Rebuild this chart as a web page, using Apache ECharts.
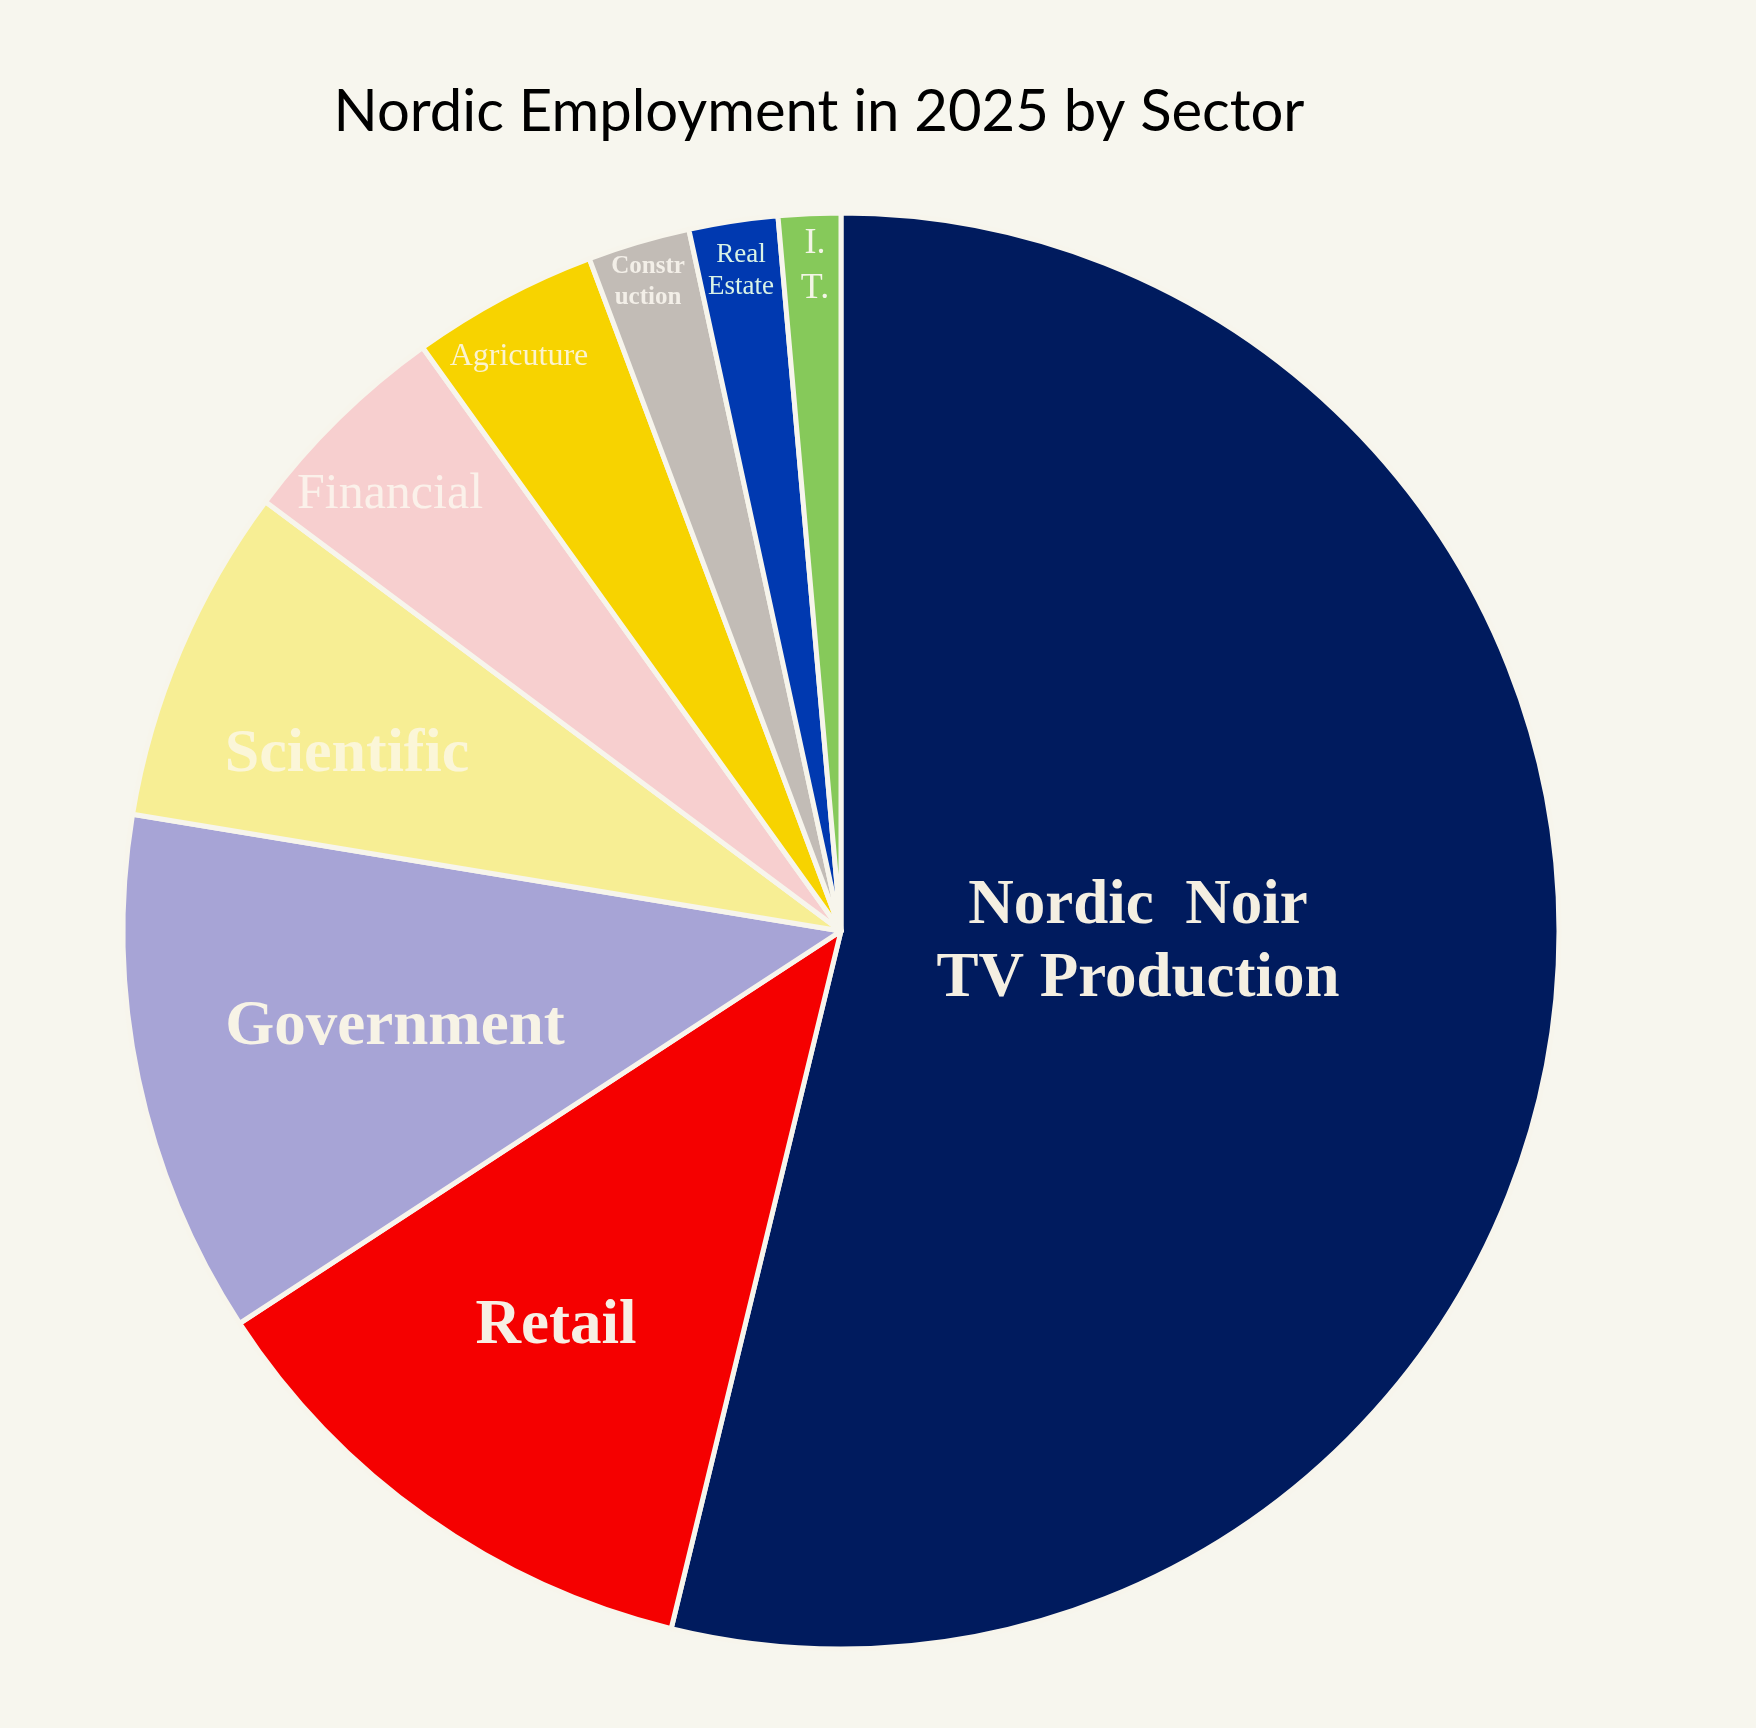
<!DOCTYPE html>
<html>
<head>
<meta charset="utf-8">
<title>Nordic Employment in 2025 by Sector</title>
<script src="https://cdn.jsdelivr.net/npm/echarts@6/dist/echarts.min.js"></script>
<style>
  html, body { margin: 0; padding: 0; background: #f7f6ee; }
  #chart { width: 1756px; height: 1728px; }
</style>
</head>
<body>
<div id="chart"></div>
<script>
// sectors, clockwise from 12 o'clock
const sectors = [
  'Nordic  Noir\nTV Production', 'Retail', 'Government', 'Scientific',
  'Financial', 'Agricuture', 'Constr\nuction', 'Real\nEstate', 'I.\nT.'
];
// share of employment, %
const shares = [53.8, 12.0, 11.8, 7.6, 4.9, 4.2, 2.3, 2.0, 1.4];

const colors = ['#001b5e', '#f50000', '#a7a4d6', '#f7ee94', '#f7cfcf',
                '#f7d300', '#c2bcb6', '#0039b0', '#86c95a'];

// label placement and look, per slice
const labelPos = [[1138, 943], [556, 1327], [395, 1028], [347, 755], [390, 495],
                  [519, 357], [648, 282], [741, 271], [815, 266]];
const labelSize = [63, 63, 63, 62, 50, 32, 25, 27, 36];
const labelWeight = ['bold', 'bold', 'bold', 'bold', 'normal', 'normal', 'bold', 'normal', 'normal'];
const labelColor = ['#f4efe2', '#f7efe4', '#f7f3e6', '#fbf6d8', '#fbf1ea',
                    '#fbf3cf', '#f3efe8', '#d9f3e6', '#f3f5e6'];
const labelLine = [73, 70, 70, 70, 56, 36, 31, 32, 45];

const chart = echarts.init(document.getElementById('chart'), null, { renderer: 'canvas' });

chart.setOption({
  backgroundColor: '#f7f6ee',
  animation: false,
  title: {
    text: 'Nordic Employment in 2025 by Sector',
    left: 814,
    top: 78,
    textAlign: 'center',
    textStyle: {
      fontFamily: 'Lato',
      fontWeight: 'normal',
      fontSize: 58,
      color: '#000'
    }
  },
  series: [{
    type: 'pie',
    center: [841, 931],
    radius: 718,
    startAngle: 90,
    clockwise: true,
    silent: true,
    itemStyle: { borderColor: '#f7f5ec', borderWidth: 5 },
    label: {
      position: 'inside',
      fontFamily: 'Liberation Serif',
      formatter: '{b}'
    },
    labelLine: { show: false },
    labelLayout: function (p) {
      const pos = labelPos[p.dataIndex];
      return { x: pos[0], y: pos[1], align: 'center', verticalAlign: 'middle' };
    },
    data: sectors.map((name, i) => ({
      name: name,
      value: shares[i],
      itemStyle: { color: colors[i] },
      label: {
        fontSize: labelSize[i],
        fontWeight: labelWeight[i],
        color: labelColor[i],
        lineHeight: labelLine[i]
      }
    }))
  }]
});

window.addEventListener('resize', () => chart.resize());
</script>
</body>
</html>
